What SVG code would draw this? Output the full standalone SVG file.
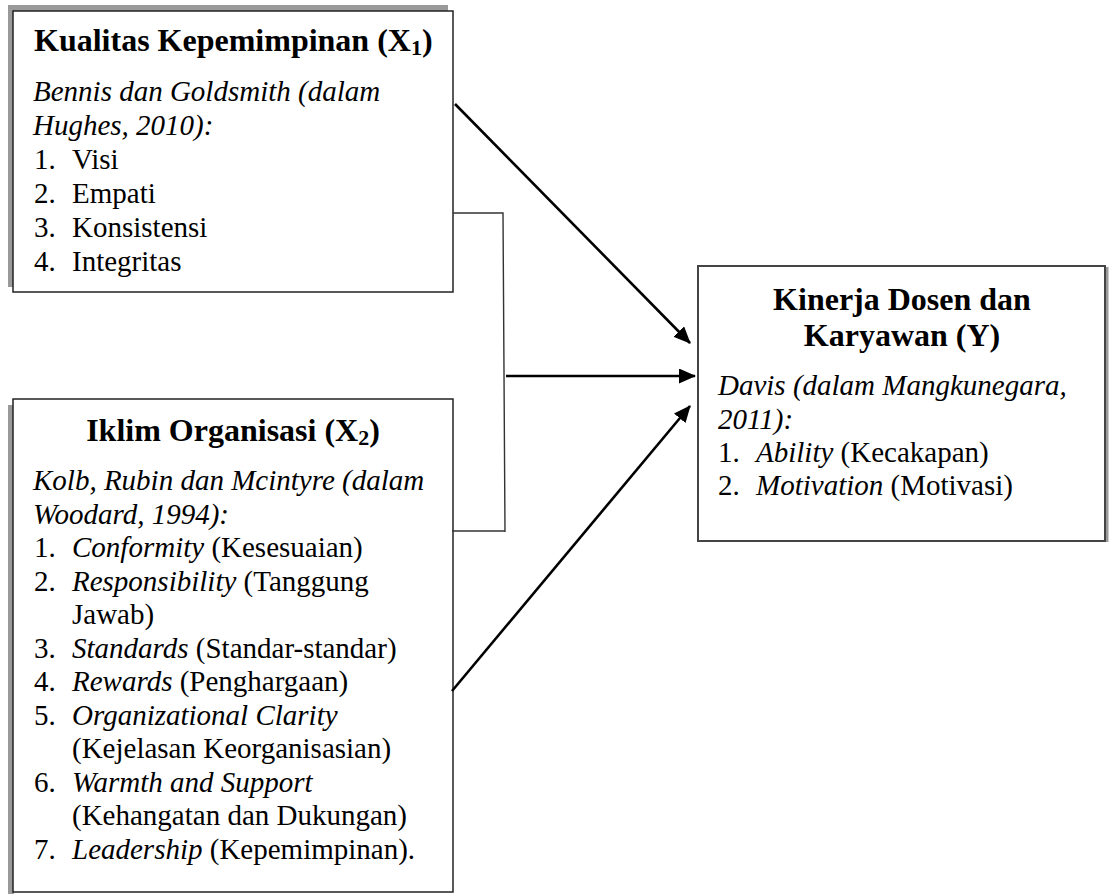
<svg xmlns="http://www.w3.org/2000/svg" width="1109" height="894" viewBox="0 0 1109 894">
  <defs>
    <marker id="ah" markerWidth="17" markerHeight="15" refX="16" refY="7.5" orient="auto" markerUnits="userSpaceOnUse">
      <path d="M0,0 L17,7.5 L0,15 Z" fill="#000"/>
    </marker>
    <style>
      .t { font-family: "Liberation Serif", "Times New Roman", serif; font-size: 29px; fill: #000; }
      .h { font-family: "Liberation Serif", "Times New Roman", serif; font-size: 32px; font-weight: bold; fill: #000; }
      .i { font-style: italic; }
      .sub { font-size: 22px; }
      .box { fill: #fff; stroke: #222; stroke-width: 1.5; }
      .shadow { fill: #9a9a9a; }
      .arrow { stroke: #000; stroke-width: 2.6; fill: none; marker-end: url(#ah); }
      .brk { stroke: #333; stroke-width: 1.4; fill: none; }
    </style>
  </defs>
  <rect width="1109" height="894" fill="#fff"/>

  <g id="node-x1">
    <rect class="shadow" x="8" y="5" width="440" height="282"/>
    <rect class="box" x="13" y="11" width="440" height="281"/>
    <text class="h" x="34" y="51">Kualitas Kepemimpinan (X<tspan class="sub" dy="4">1</tspan><tspan dy="-4">)</tspan></text>
    <text class="t i" x="33" y="101">Bennis dan Goldsmith (dalam</text>
    <text class="t i" x="33" y="135">Hughes, 2010):</text>
    <text class="t" x="34" y="169">1.</text><text class="t" x="72" y="169">Visi</text>
    <text class="t" x="34" y="203">2.</text><text class="t" x="72" y="203">Empati</text>
    <text class="t" x="34" y="237">3.</text><text class="t" x="72" y="237">Konsistensi</text>
    <text class="t" x="34" y="271">4.</text><text class="t" x="72" y="271">Integritas</text>
  </g>

  <g id="node-x2">
    <rect class="shadow" x="8" y="405" width="6" height="489"/>
    <rect class="box" x="13" y="399" width="440" height="493"/>
    <text class="h" x="233" y="441" text-anchor="middle">Iklim Organisasi (X<tspan class="sub" dy="4">2</tspan><tspan dy="-4">)</tspan></text>
    <text class="t i" x="33" y="490">Kolb, Rubin dan Mcintyre (dalam</text>
    <text class="t i" x="33" y="523.5">Woodard, 1994):</text>
    <text class="t" x="34" y="557">1.</text><text class="t" x="72" y="557"><tspan class="i">Conformity</tspan> (Kesesuaian)</text>
    <text class="t" x="34" y="590.5">2.</text><text class="t" x="72" y="590.5"><tspan class="i">Responsibility</tspan> (Tanggung</text>
    <text class="t" x="72" y="624">Jawab)</text>
    <text class="t" x="34" y="657.5">3.</text><text class="t" x="72" y="657.5"><tspan class="i">Standards</tspan> (Standar-standar)</text>
    <text class="t" x="34" y="691">4.</text><text class="t" x="72" y="691"><tspan class="i">Rewards</tspan> (Penghargaan)</text>
    <text class="t" x="34" y="724.5">5.</text><text class="t i" x="72" y="724.5">Organizational Clarity</text>
    <text class="t" x="72" y="758">(Kejelasan Keorganisasian)</text>
    <text class="t" x="34" y="791.5">6.</text><text class="t i" x="72" y="791.5">Warmth and Support</text>
    <text class="t" x="72" y="825">(Kehangatan dan Dukungan)</text>
    <text class="t" x="34" y="858.5">7.</text><text class="t" x="72" y="858.5"><tspan class="i">Leadership</tspan> (Kepemimpinan).</text>
  </g>

  <g id="node-y">
    <rect x="1106" y="267" width="2.5" height="275" fill="#9a9a9a"/>
    <rect x="698" y="266" width="407" height="275" fill="#fff" stroke="#444" stroke-width="2"/>
    <text class="h" x="902" y="310" text-anchor="middle">Kinerja Dosen dan</text>
    <text class="h" x="902" y="346" text-anchor="middle">Karyawan (Y)</text>
    <text class="t i" x="718" y="395">Davis (dalam Mangkunegara,</text>
    <text class="t i" x="718" y="429">2011):</text>
    <text class="t" x="718" y="462">1.</text><text class="t" x="756" y="462"><tspan class="i">Ability</tspan> (Kecakapan)</text>
    <text class="t" x="718" y="495">2.</text><text class="t" x="756" y="495"><tspan class="i">Motivation</tspan> (Motivasi)</text>
  </g>

  <g id="connectors">
    <path class="brk" d="M453,213 L503,213 L505,532"/>
    <path class="brk" d="M452,531 L505,531"/>
    <line class="arrow" x1="455" y1="104" x2="690" y2="343"/>
    <line class="arrow" x1="506" y1="376" x2="695" y2="376"/>
    <line class="arrow" x1="452" y1="691" x2="690" y2="406"/>
  </g>
</svg>
